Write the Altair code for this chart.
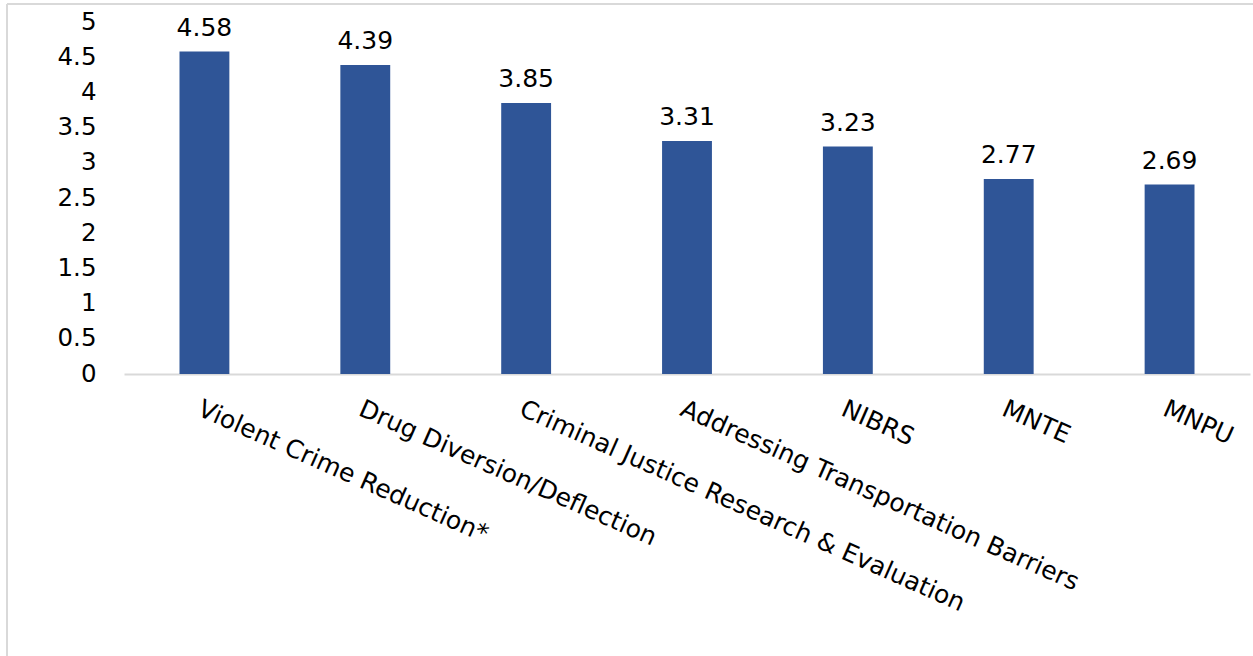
import altair as alt
import pandas as pd

categories = [
    "Violent Crime Reduction*",
    "Drug Diversion/Deflection",
    "Criminal Justice Research & Evaluation",
    "Addressing Transportation Barriers",
    "NIBRS",
    "MNTE",
    "MNPU",
]
values = [4.58, 4.39, 3.85, 3.31, 3.23, 2.77, 2.69]
y_ticks = [0, 0.5, 1, 1.5, 2, 2.5, 3, 3.5, 4, 4.5, 5]

df = pd.DataFrame({"category": categories, "value": values})

FONT = "DejaVu Sans"
BAR = "#2F5597"
GRAY = "#D9D9D9"

x = alt.X(
    "category:N",
    sort=None,
    title=None,
    scale=alt.Scale(paddingInner=0.69, paddingOuter=0.345),
    axis=alt.Axis(
        labelAngle=24,
        labelAlign="left",
        labelBaseline="top",
        labelPadding=22,
        labelFontSize=25,
        labelFont=FONT,
        labelColor="#000000",
        labelLimit=0,
        labelOverlap=False,
        ticks=False,
        domainColor=GRAY,
        domainWidth=2,
    ),
)
y = alt.Y(
    "value:Q",
    title=None,
    scale=alt.Scale(domain=[0, 5], nice=False),
    axis=alt.Axis(
        values=y_ticks,
        format="~g",
        labelFontSize=24.5,
        labelFont=FONT,
        labelColor="#000000",
        labelPadding=28,
        labelOverlap=False,
        labelFlush=False,
        ticks=False,
        domain=False,
        grid=False,
    ),
)

bars = alt.Chart(df).mark_bar(color=BAR).encode(x=x, y=y)
labels = alt.Chart(df).mark_text(
    font=FONT, fontSize=25, color="#000000", baseline="alphabetic", dy=-16
).encode(x=x, y=y, text=alt.Text("value:Q", format=".2f"))

frame_top = alt.Chart(df).mark_rule(color=GRAY, strokeWidth=2).encode(
    x=alt.value(-117), x2=alt.value(1135), y=alt.value(-18)
)
frame_left = alt.Chart(df).mark_rule(color=GRAY, strokeWidth=2).encode(
    x=alt.value(-117), y=alt.value(-18), y2=alt.value(640)
)

chart = (
    alt.layer(frame_top, frame_left, bars, labels)
    .properties(
        width=1126,
        height=352,
        autosize=alt.AutoSizeParams(type="none"),
        padding={"left": 124, "top": 22, "right": 3, "bottom": 282},
        background="white",
    )
    .configure_view(stroke=None)
)

chart.save("out.html", embed_options={"renderer": "svg", "actions": False})
